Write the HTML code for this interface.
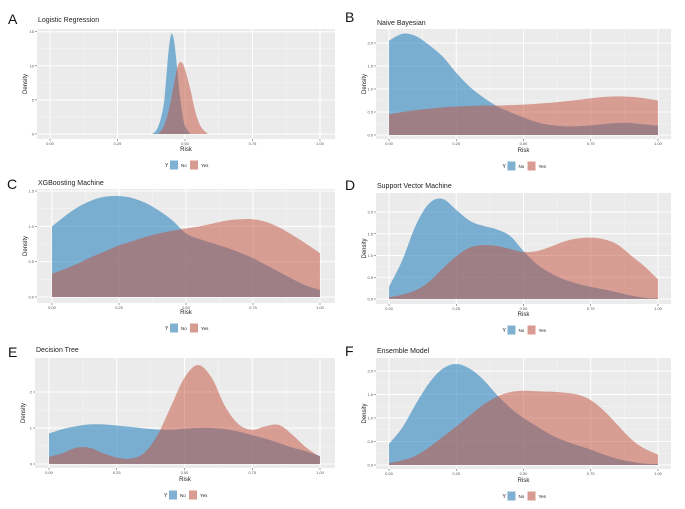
<!DOCTYPE html>
<html><head><meta charset="utf-8">
<style>
body{margin:0;background:#fff;}
svg{display:block;font-family:"Liberation Sans",sans-serif;}
</style></head>
<body>
<svg id="fig" width="685" height="509" viewBox="0 0 685 509" xmlns="http://www.w3.org/2000/svg"></svg>
<script>
const grid21 = [0,0.05,0.1,0.15,0.2,0.25,0.3,0.35,0.4,0.45,0.5,0.55,0.6,0.65,0.7,0.75,0.8,0.85,0.9,0.95,1];
const xTickLabels = ["0.00","0.25","0.50","0.75","1.00"];
const xTickValues = [0,0.25,0.5,0.75,1];

const panelLetters = ["A","B","C","D","E","F"];
const panelTitles = ["Logistic Regression","Naive Bayesian","XGBoosting Machine","Support Vector Machine","Decision Tree","Ensemble Model"];

const aNoX = [0.38,0.40,0.42,0.43,0.44,0.45,0.46,0.47,0.48,0.49,0.50,0.52];
const aNoY = [0,1,4,8,12.5,14.7,13.5,10,6,3,1.2,0];
const aYesX = [0.40,0.42,0.44,0.46,0.47,0.48,0.49,0.50,0.52,0.54,0.56,0.585];
const aYesY = [0,1,3.5,7.5,9.5,10.5,10.4,9.5,6.5,3,1,0];

const bNoY = [2.05,2.2,2.15,1.95,1.7,1.35,1.05,0.82,0.63,0.5,0.38,0.28,0.22,0.19,0.19,0.21,0.24,0.26,0.26,0.23,0.2];
const bYesY = [0.45,0.5,0.54,0.57,0.6,0.62,0.63,0.64,0.64,0.65,0.66,0.68,0.7,0.73,0.76,0.8,0.83,0.84,0.83,0.8,0.75];
const cNoY = [1.0,1.15,1.28,1.37,1.42,1.43,1.4,1.33,1.22,1.08,0.9,0.82,0.76,0.7,0.63,0.55,0.45,0.35,0.25,0.16,0.1];
const cYesY = [0.33,0.4,0.48,0.57,0.65,0.73,0.79,0.85,0.9,0.94,0.97,1.0,1.04,1.08,1.1,1.1,1.06,0.98,0.87,0.75,0.62];
const dNoY = [0.28,0.9,1.7,2.2,2.3,2.05,1.8,1.68,1.6,1.45,1.1,0.8,0.6,0.45,0.35,0.28,0.22,0.15,0.08,0.03,0.01];
const dYesY = [0.04,0.1,0.2,0.4,0.7,0.98,1.18,1.24,1.22,1.15,1.08,1.1,1.2,1.32,1.39,1.41,1.37,1.25,1.0,0.75,0.45];
const eNoY = [0.85,0.97,1.05,1.1,1.1,1.07,1.03,0.99,0.96,0.95,0.98,1.0,1.0,0.97,0.9,0.8,0.7,0.58,0.45,0.35,0.22];
const eYesY = [0.2,0.3,0.45,0.45,0.3,0.18,0.15,0.3,0.8,1.6,2.4,2.75,2.4,1.6,1.1,0.95,1.05,1.08,0.8,0.45,0.2];
const fNoY = [0.45,0.8,1.3,1.75,2.05,2.15,2.05,1.82,1.5,1.22,1.0,0.82,0.65,0.52,0.42,0.33,0.22,0.13,0.07,0.03,0.02];
const fYesY = [0.04,0.1,0.2,0.38,0.6,0.82,1.05,1.28,1.45,1.55,1.58,1.57,1.56,1.54,1.5,1.38,1.15,0.85,0.55,0.35,0.22];

const aYTicks = [0,5,10,15];
const bYTicks = [0,0.5,1,1.5,2];
const cYTicks = [0,0.5,1,1.5];
const dYTicks = [0,0.5,1,1.5,2];
const eYTicks = [0,1,2];
const fYTicks = [0,0.5,1,1.5,2];

const NS = "http://www.w3.org/2000/svg";
const svg = document.getElementById("fig");
function mk(tag, attrs, parent){const e=document.createElementNS(NS,tag);for(const k in attrs)e.setAttribute(k,attrs[k]);(parent||svg).appendChild(e);return e;}

const layouts = [
 {ox:0,oy:0,px:37,py:29,pw:298,ph:110,x0:50,x1:320,yA:0,yApx:134,yB:15,yBpx:31.7,title:22,risk:151,leg:165,lx:8,ly:24,intY:true},
 {ox:340,oy:0,px:376,py:29,pw:295,ph:110,x0:389,x1:658,yA:0,yApx:135,yB:2,yBpx:43,title:25,risk:152,leg:166,lx:345,ly:22},
 {ox:0,oy:165,px:37,py:189,pw:298,ph:114,x0:52,x1:320,yA:0,yApx:297,yB:1.5,yBpx:191,title:185,risk:314,leg:328,lx:7,ly:189},
 {ox:340,oy:165,px:376,py:193,pw:295,ph:111,x0:389,x1:658,yA:0,yApx:299,yB:2,yBpx:212,title:188,risk:316,leg:330,lx:345,ly:190},
 {ox:0,oy:335,px:35,py:358,pw:300,ph:110,x0:49,x1:320,yA:0,yApx:464,yB:2,yBpx:392,title:352,risk:481,leg:495,lx:8,ly:357,intY:true},
 {ox:340,oy:335,px:376,py:358,pw:295,ph:111,x0:389,x1:658,yA:0,yApx:465,yB:2,yBpx:371,title:353,risk:482,leg:496,lx:345,ly:356}
];
const series = [
 [[aNoX,aNoY],[aYesX,aYesY]],
 [[grid21,bNoY],[grid21,bYesY]],
 [[grid21,cNoY],[grid21,cYesY]],
 [[grid21,dNoY],[grid21,dYesY]],
 [[grid21,eNoY],[grid21,eYesY]],
 [[grid21,fNoY],[grid21,fYesY]]
];
const yTicks = [aYTicks,bYTicks,cYTicks,dYTicks,eYTicks,fYTicks];
const fills = ["rgba(40,130,190,0.58)","rgba(195,80,60,0.5)"];

function smoothPath(pts){
  let d="M"+pts[0][0].toFixed(2)+","+pts[0][1].toFixed(2);
  for(let i=0;i<pts.length-1;i++){
    const p0=pts[Math.max(i-1,0)],p1=pts[i],p2=pts[i+1],p3=pts[Math.min(i+2,pts.length-1)];
    const c1=[p1[0]+(p2[0]-p0[0])/6,p1[1]+(p2[1]-p0[1])/6];
    const c2=[p2[0]-(p3[0]-p1[0])/6,p2[1]-(p3[1]-p1[1])/6];
    d+=" C"+c1[0].toFixed(2)+","+c1[1].toFixed(2)+" "+c2[0].toFixed(2)+","+c2[1].toFixed(2)+" "+p2[0].toFixed(2)+","+p2[1].toFixed(2);
  }
  return d;
}

layouts.forEach((L,i)=>{
  const g=mk("g",{});
  
  
  const xs=v=>L.x0+(L.x1-L.x0)*v;
  const ys=v=>L.yApx+(L.yBpx-L.yApx)*(v-L.yA)/(L.yB-L.yA);
  const letter=mk("text",{x:L.lx,y:L.ly,"font-size":14,fill:"#111"},g);letter.textContent=panelLetters[i];
  
  
  const t=mk("text",{x:L.px+1,y:L.title,"font-size":7,fill:"#222"},g);t.textContent=panelTitles[i];
  
  
  const bg=mk("rect",{x:L.px,y:L.py,width:L.pw,height:L.ph,fill:"#ebebeb"},g);
  
  
  for(let k=0;k<4;k++){const xv=xs(0.125+0.25*k);mk("line",{x1:xv,x2:xv,y1:L.py,y2:L.py+L.ph,stroke:"#f6f6f6","stroke-width":0.5},g);}
  const yt=yTicks[i];
  for(let k=0;k<yt.length-1;k++){const yv=ys((yt[k]+yt[k+1])/2);mk("line",{x1:L.px,x2:L.px+L.pw,y1:yv,y2:yv,stroke:"#f6f6f6","stroke-width":0.5},g);}
  xTickValues.forEach((v,k)=>{
    const xv=xs(v);
    mk("line",{x1:xv,x2:xv,y1:L.py,y2:L.py+L.ph,stroke:"#fff","stroke-width":1},g);
    mk("line",{x1:xv,x2:xv,y1:L.py+L.ph,y2:L.py+L.ph+2,stroke:"#444","stroke-width":0.5},g);
    const tl=mk("text",{x:xv,y:L.py+L.ph+5.8,"font-size":4,fill:"#555","text-anchor":"middle"},g);tl.textContent=xTickLabels[k];
    
    
  });
  yt.forEach(v=>{
    const yv=ys(v);
    mk("line",{x1:L.px,x2:L.px+L.pw,y1:yv,y2:yv,stroke:"#fff","stroke-width":1},g);
    mk("line",{x1:L.px-2,x2:L.px,y1:yv,y2:yv,stroke:"#444","stroke-width":0.5},g);
    const tl=mk("text",{x:L.px-3,y:yv+1.5,"font-size":4,fill:"#555","text-anchor":"end"},g);tl.textContent=L.intY?String(v):v.toFixed(1);
    
    
  });
  series[i].forEach((s,k)=>{
    const pts=s[0].map((xv,j)=>[xs(xv),ys(s[1][j])]);
    const base=ys(0);
    const d="M"+pts[0][0]+","+base+" L"+smoothPath(pts).slice(1)+" L"+pts[pts.length-1][0]+","+base+" Z";
    const p=mk("path",{d:d,fill:fills[k]},g);
    
    
  });
  const cx=L.px+L.pw/2;
  const rx=mk("text",{x:cx,y:L.risk,"font-size":6,fill:"#222","text-anchor":"middle"},g);rx.textContent="Risk";
  
  
  const cy=L.py+L.ph/2;
  const dy=mk("text",{x:L.px-10,y:cy,"font-size":6,fill:"#222","text-anchor":"middle",transform:"rotate(-90 "+(L.px-10)+" "+cy+")"},g);dy.textContent="Density";
  
  
  const lg=mk("g",{},g);
  
  
  const lx=cx-21;
  const ly=mk("text",{x:lx,y:L.leg+2,"font-size":5,fill:"#222"},lg);ly.textContent="Y";
  const b1=mk("rect",{x:lx+5,y:L.leg-4.5,width:8,height:9,fill:"#80b1d2"},lg);
  
  
  const t1=mk("text",{x:lx+16,y:L.leg+2,"font-size":4.5,fill:"#222"},lg);t1.textContent="No";
  const b2=mk("rect",{x:lx+25,y:L.leg-4.5,width:8,height:9,fill:"#d89b92"},lg);
  
  
  const t2=mk("text",{x:lx+36,y:L.leg+2,"font-size":4.5,fill:"#222"},lg);t2.textContent="Yes";
});
</script>
</body></html>
